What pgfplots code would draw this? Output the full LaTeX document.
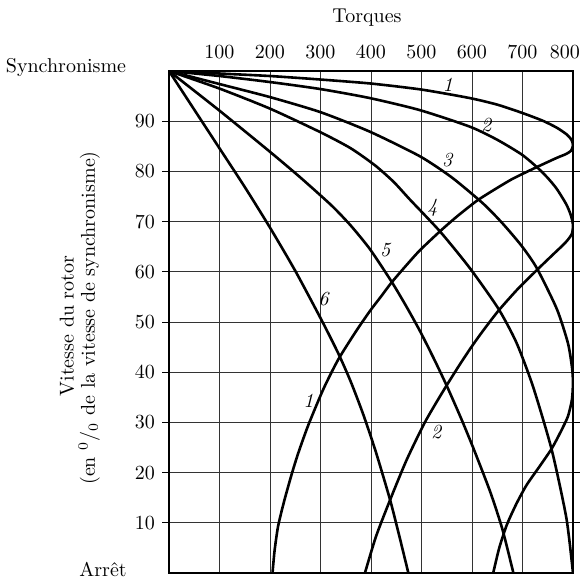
\documentclass[border=0pt]{standalone}
\usepackage{pgfplots}
\pgfplotsset{compat=1.18}
\begin{document}
\begin{tikzpicture}[x=1pt,y=1pt]
\useasboundingbox (0,0) rectangle (292,289.5);
\begin{axis}[
  at={(84.5pt,3pt)}, anchor=south west,
  scale only axis, width=202pt, height=251pt,
  xmin=0, xmax=800, ymin=0, ymax=100,
  xtick={100,200,...,700}, ytick={10,20,...,90},
  extra x ticks={800},
  extra x tick style={grid=none, xticklabel style={xshift=-4pt}},
  xticklabel pos=upper,
  grid=major,
  major grid style={black!80, line width=0.45pt},
  axis line style={black, line width=0.7pt},
  tick align=outside,
  xtick style={draw=none},
  ytick style={black, line width=0.5pt},
  major tick length=3.5pt,
  xticklabel style={font=\itshape, yshift=-1pt},
  curve/.style={black, line width=1.3pt, smooth, tension=0.4, mark=none},
]
% courbe 1
\addplot[curve] coordinates {(0,100)(100,99.5)(200,99)(300,98.3)(400,97.5)(500,96.3)(596,94.6)(650,93.3)(698,91.7)(740,90.1)(768,88.7)(787,87.4)(797,86.3)(800,85.2)(796,84.1)(785,83.4)(768,82.7)(725,80.7)(680,78.5)(640,76.1)(609,74.1)(570,71.0)(537,68.1)(497,64.3)(470,61.3)(441,57.9)(420,55.1)(398,52.2)(370,48.1)(335,42.5)(306,36.7)(276,29.5)(256,23.9)(243,19.7)(228,14.3)(216,9.3)(209,4.4)(205,0)};
% courbe 2
\addplot[curve] coordinates {(0,100)(100,99)(200,97.8)(300,96.4)(398,94.6)(497,92.2)(596,88.9)(650,86.3)(698,83.4)(728,80.9)(750,78.7)(768,76.5)(787,73.4)(796,71.2)(800,69.3)(798,67.6)(790,66.4)(781,65.4)(760,63.4)(728,60.3)(690,56.5)(652,52.2)(620,48)(598,44.9)(575,41.4)(550,37.4)(526,33.4)(504,29.5)(470,22.4)(438,14.6)(410,7.3)(388,0)};
% courbe 3
\addplot[curve] coordinates {(0,100)(100,97.4)(200,94.8)(300,91.8)(398,87.9)(497,83)(560,78.8)(622,73.6)(660,69.7)(698,65.2)(728,60.8)(768,52.6)(790,45.8)(798,41)(800,38)(798,34.6)(790,31.2)(775,28)(758,24.8)(735,21.4)(708,17.5)(688,13.8)(669,9.6)(654,5)(642,0)};
% courbe 4
\addplot[curve] coordinates {(0,100)(100,96.5)(200,92.5)(300,87.8)(360,84.6)(408,81.2)(445,77.9)(477,74.4)(537,68)(596,60.7)(652,52.7)(688,45.9)(721,37.1)(758,24.5)(787,10.9)(800,0)};
% courbe 5
\addplot[curve] coordinates {(0,100)(100,92.1)(200,83.9)(260,78.8)(322,73.2)(360,69.2)(398,64.5)(441,58)(470,53.1)(497,48.2)(525,42.6)(550,37.3)(578,30.9)(603,24.8)(636,16.2)(660,8.8)(682,0)};
% courbe 6
\addplot[curve] coordinates {(0,100)(50,92.3)(100,84.6)(150,76.9)(200,68.8)(250,60.2)(302,50.4)(335,43.8)(360,38.1)(385,31.5)(410,24)(438,14.5)(456,7.4)(474,0)};
% numeros des courbes
\node[font=\itshape] at (axis cs:552,97.2) {1};
\node[font=\itshape] at (axis cs:628,89.2) {2};
\node[font=\itshape] at (axis cs:551,82.2) {3};
\node[font=\itshape] at (axis cs:522,72.8) {4};
\node[font=\itshape] at (axis cs:428,64.3) {5};
\node[font=\itshape] at (axis cs:306,54.6) {6};
\node[font=\itshape] at (axis cs:276,34.3) {1};
\node[font=\itshape] at (axis cs:529,28) {2};
\end{axis}
\node at (183.5,280.5) {Torques};
\node at (33,255.5) {Synchronisme};
\node at (51.5,5) {Arrêt};
\node[rotate=90] at (33.5,126.5) {Vitesse du rotor};
\node[rotate=90] at (44.5,130.5) {(en \textsuperscript{0}/\textsubscript{0} de la vitesse de synchronisme)};
\end{tikzpicture}
\end{document}
